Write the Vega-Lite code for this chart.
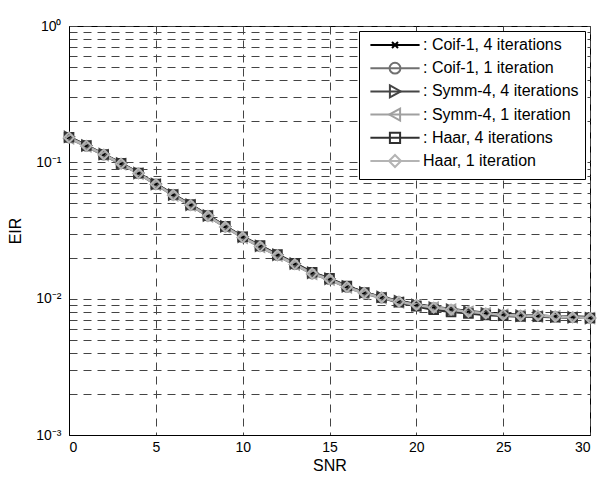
{
 "$schema": "https://vega.github.io/schema/vega-lite/v6.json",
 "width": 521, "height": 409,
 "autosize": "none",
 "padding": {"left": 69, "top": 26, "right": 9, "bottom": 44},
 "background": "white",
 "config": {
  "view": {"stroke": "black", "strokeWidth": 1},
  "font": "Liberation Sans",
  "axis": {"labelFont": "Liberation Sans", "titleFont": "Liberation Sans", "labelFontSize": 14, "titleFontSize": 16, "titleFontWeight": "normal", "labelColor": "black", "titleColor": "black", "domainColor": "black", "ticks": false, "grid": true, "gridDash": [8, 6], "gridColor": "#444", "gridWidth": 1, "gridOpacity": 1, "labelOverlap": false},
  "legend": {"orient": "none", "legendX": 290, "legendY": 5, "title": null, "padding": 6, "cornerRadius": 0,
     "labelFont": "Liberation Sans", "labelFontSize": 16, "labelColor": "black", "labelLimit": 300,
     "symbolSize": 144, "symbolOffset": 22, "labelOffset": 20, "rowPadding": -0.8, "symbolStrokeWidth": 2}
 },
 "data": {"values": [
  {"s":"a","x":0,"y":0.153},{"s":"a","x":1,"y":0.132},{"s":"a","x":2,"y":0.114},{"s":"a","x":3,"y":0.0975},{"s":"a","x":4,"y":0.0832},{"s":"a","x":5,"y":0.0692},{"s":"a","x":6,"y":0.0578},{"s":"a","x":7,"y":0.0487},{"s":"a","x":8,"y":0.0405},{"s":"a","x":9,"y":0.0338},{"s":"a","x":10,"y":0.0283},{"s":"a","x":11,"y":0.0243},{"s":"a","x":12,"y":0.0209},{"s":"a","x":13,"y":0.0180},{"s":"a","x":14,"y":0.0154},{"s":"a","x":15,"y":0.0139},{"s":"a","x":16,"y":0.0123},{"s":"a","x":17,"y":0.0111},{"s":"a","x":18,"y":0.0102},{"s":"a","x":19,"y":0.0096},{"s":"a","x":20,"y":0.0091},{"s":"a","x":21,"y":0.0087},{"s":"a","x":22,"y":0.0084},{"s":"a","x":23,"y":0.0081},{"s":"a","x":24,"y":0.0079},{"s":"a","x":25,"y":0.0077},{"s":"a","x":26,"y":0.0076},{"s":"a","x":27,"y":0.0075},{"s":"a","x":28,"y":0.0074},{"s":"a","x":29,"y":0.0074},{"s":"a","x":30,"y":0.0073},
  {"s":"b","x":0,"y":0.151},{"s":"b","x":1,"y":0.131},{"s":"b","x":2,"y":0.113},{"s":"b","x":3,"y":0.0978},{"s":"b","x":4,"y":0.0828},{"s":"b","x":5,"y":0.0688},{"s":"b","x":6,"y":0.0575},{"s":"b","x":7,"y":0.0484},{"s":"b","x":8,"y":0.0403},{"s":"b","x":9,"y":0.0336},{"s":"b","x":10,"y":0.0281},{"s":"b","x":11,"y":0.0241},{"s":"b","x":12,"y":0.0207},{"s":"b","x":13,"y":0.0178},{"s":"b","x":14,"y":0.0152},{"s":"b","x":15,"y":0.0138},{"s":"b","x":16,"y":0.0121},{"s":"b","x":17,"y":0.0110},{"s":"b","x":18,"y":0.0101},{"s":"b","x":19,"y":0.0095},{"s":"b","x":20,"y":0.0090},{"s":"b","x":21,"y":0.0086},{"s":"b","x":22,"y":0.0083},{"s":"b","x":23,"y":0.0080},{"s":"b","x":24,"y":0.0078},{"s":"b","x":25,"y":0.0076},{"s":"b","x":26,"y":0.0075},{"s":"b","x":27,"y":0.0074},{"s":"b","x":28,"y":0.0074},{"s":"b","x":29,"y":0.0073},{"s":"b","x":30,"y":0.0072},
  {"s":"c","x":0,"y":0.154},{"s":"c","x":1,"y":0.133},{"s":"c","x":2,"y":0.115},{"s":"c","x":3,"y":0.0982},{"s":"c","x":4,"y":0.0835},{"s":"c","x":5,"y":0.0694},{"s":"c","x":6,"y":0.0580},{"s":"c","x":7,"y":0.0489},{"s":"c","x":8,"y":0.0407},{"s":"c","x":9,"y":0.0339},{"s":"c","x":10,"y":0.0284},{"s":"c","x":11,"y":0.0244},{"s":"c","x":12,"y":0.0210},{"s":"c","x":13,"y":0.0181},{"s":"c","x":14,"y":0.0155},{"s":"c","x":15,"y":0.0140},{"s":"c","x":16,"y":0.0123},{"s":"c","x":17,"y":0.0111},{"s":"c","x":18,"y":0.0103},{"s":"c","x":19,"y":0.0096},{"s":"c","x":20,"y":0.0090},{"s":"c","x":21,"y":0.0086},{"s":"c","x":22,"y":0.0083},{"s":"c","x":23,"y":0.0080},{"s":"c","x":24,"y":0.0078},{"s":"c","x":25,"y":0.0076},{"s":"c","x":26,"y":0.0075},{"s":"c","x":27,"y":0.0075},{"s":"c","x":28,"y":0.0074},{"s":"c","x":29,"y":0.0073},{"s":"c","x":30,"y":0.0072},
  {"s":"d","x":0,"y":0.150},{"s":"d","x":1,"y":0.131},{"s":"d","x":2,"y":0.113},{"s":"d","x":3,"y":0.0972},{"s":"d","x":4,"y":0.0826},{"s":"d","x":5,"y":0.0687},{"s":"d","x":6,"y":0.0573},{"s":"d","x":7,"y":0.0484},{"s":"d","x":8,"y":0.0402},{"s":"d","x":9,"y":0.0335},{"s":"d","x":10,"y":0.0280},{"s":"d","x":11,"y":0.0240},{"s":"d","x":12,"y":0.0207},{"s":"d","x":13,"y":0.0178},{"s":"d","x":14,"y":0.0152},{"s":"d","x":15,"y":0.0138},{"s":"d","x":16,"y":0.0121},{"s":"d","x":17,"y":0.0109},{"s":"d","x":18,"y":0.0101},{"s":"d","x":19,"y":0.0094},{"s":"d","x":20,"y":0.0089},{"s":"d","x":21,"y":0.0086},{"s":"d","x":22,"y":0.0083},{"s":"d","x":23,"y":0.0080},{"s":"d","x":24,"y":0.0078},{"s":"d","x":25,"y":0.0076},{"s":"d","x":26,"y":0.0075},{"s":"d","x":27,"y":0.0074},{"s":"d","x":28,"y":0.0074},{"s":"d","x":29,"y":0.0073},{"s":"d","x":30,"y":0.0072},
  {"s":"e","x":0,"y":0.153},{"s":"e","x":1,"y":0.133},{"s":"e","x":2,"y":0.114},{"s":"e","x":3,"y":0.0985},{"s":"e","x":4,"y":0.0836},{"s":"e","x":5,"y":0.0695},{"s":"e","x":6,"y":0.0582},{"s":"e","x":7,"y":0.0490},{"s":"e","x":8,"y":0.0408},{"s":"e","x":9,"y":0.0340},{"s":"e","x":10,"y":0.0285},{"s":"e","x":11,"y":0.0245},{"s":"e","x":12,"y":0.0211},{"s":"e","x":13,"y":0.0182},{"s":"e","x":14,"y":0.0156},{"s":"e","x":15,"y":0.0141},{"s":"e","x":16,"y":0.0124},{"s":"e","x":17,"y":0.0111},{"s":"e","x":18,"y":0.0102},{"s":"e","x":19,"y":0.0094},{"s":"e","x":20,"y":0.0088},{"s":"e","x":21,"y":0.0083},{"s":"e","x":22,"y":0.0080},{"s":"e","x":23,"y":0.0078},{"s":"e","x":24,"y":0.0076},{"s":"e","x":25,"y":0.0075},{"s":"e","x":26,"y":0.0074},{"s":"e","x":27,"y":0.0074},{"s":"e","x":28,"y":0.0073},{"s":"e","x":29,"y":0.0073},{"s":"e","x":30,"y":0.0072},
  {"s":"f","x":0,"y":0.152},{"s":"f","x":1,"y":0.132},{"s":"f","x":2,"y":0.114},{"s":"f","x":3,"y":0.0978},{"s":"f","x":4,"y":0.0830},{"s":"f","x":5,"y":0.0690},{"s":"f","x":6,"y":0.0576},{"s":"f","x":7,"y":0.0486},{"s":"f","x":8,"y":0.0404},{"s":"f","x":9,"y":0.0337},{"s":"f","x":10,"y":0.0282},{"s":"f","x":11,"y":0.0242},{"s":"f","x":12,"y":0.0208},{"s":"f","x":13,"y":0.0179},{"s":"f","x":14,"y":0.0153},{"s":"f","x":15,"y":0.0139},{"s":"f","x":16,"y":0.0122},{"s":"f","x":17,"y":0.0110},{"s":"f","x":18,"y":0.0102},{"s":"f","x":19,"y":0.0095},{"s":"f","x":20,"y":0.0090},{"s":"f","x":21,"y":0.0086},{"s":"f","x":22,"y":0.0083},{"s":"f","x":23,"y":0.0080},{"s":"f","x":24,"y":0.0078},{"s":"f","x":25,"y":0.0076},{"s":"f","x":26,"y":0.0075},{"s":"f","x":27,"y":0.0075},{"s":"f","x":28,"y":0.0074},{"s":"f","x":29,"y":0.0073},{"s":"f","x":30,"y":0.0072}
 ]},
 "encoding": {
  "x": {"field": "x", "type": "quantitative", "scale": {"domain": [0, 30], "nice": false, "zero": false},
        "axis": {"title": "SNR", "values": [0, 5, 10, 15, 20, 25, 30], "labelPadding": 5, "titlePadding": 3}},
  "y": {"field": "y", "type": "quantitative", "scale": {"type": "log", "domain": [0.001, 1], "nice": false},
        "axis": {"title": "EIR", "values": [0.001,0.002,0.003,0.004,0.005,0.006,0.007,0.008,0.009,0.01,0.02,0.03,0.04,0.05,0.06,0.07,0.08,0.09,0.1,0.2,0.3,0.4,0.5,0.6,0.7,0.8,0.9,1],
                 "labelExpr": "datum.value == 1 ? '10⁰' : datum.value == 0.1 ? '10⁻¹' : datum.value == 0.01 ? '10⁻²' : datum.value == 0.001 ? '10⁻³' : ''",
                 "labelPadding": 8, "titlePadding": 12}}
 },
 "layer": [
  {"mark": {"type": "line", "strokeWidth": 2.5},
   "encoding": {"color": {"field": "s", "type": "nominal",
     "scale": {"domain": ["a","b","c","d","e","f"], "range": ["#000000","#707070","#454545","#a0a0a0","#303030","#b4b4b4"]},
     "legend": {"strokeColor": "black", "fillColor": "white", "labelOpacity": 0, "symbolType": "M-4.1,0H4.1M0,-1.17L0,-1.17M0,1.17L0,1.17", "zindex": 0,
       "labelExpr": "datum.value == 'a' ? ': Coif-1, 4 iterations' : datum.value == 'b' ? ': Coif-1, 1 iteration' : datum.value == 'c' ? ': Symm-4, 4 iterations' : datum.value == 'd' ? ': Symm-4, 1 iteration' : datum.value == 'e' ? ': Haar, 4 iterations' : 'Haar, 1 iteration'"}}}},
  {"mark": {"type": "point", "filled": false, "size": 100, "strokeWidth": 2, "opacity": 1},
   "encoding": {
    "stroke": {"field": "s", "type": "nominal",
     "scale": {"range": ["#000000","#707070","#454545","#a0a0a0","#303030","#b4b4b4"]},
     "legend": {"strokeColor": "transparent", "fillColor": "transparent", "symbolFillColor": "transparent", "zindex": 1,
       "labelExpr": "datum.value == 'a' ? ': Coif-1, 4 iterations' : datum.value == 'b' ? ': Coif-1, 1 iteration' : datum.value == 'c' ? ': Symm-4, 4 iterations' : datum.value == 'd' ? ': Symm-4, 1 iteration' : datum.value == 'e' ? ': Haar, 4 iterations' : 'Haar, 1 iteration'"}},
    "shape": {"field": "s", "type": "nominal",
     "scale": {"range": [
       "M-0.5,-0.5L0.5,0.5M-0.5,0.5L0.5,-0.5M0,-1.17L0,-1.17M0,1.17L0,1.17",
       "M-0.9,0A0.9,0.9 0 1,1 0.9,0A0.9,0.9 0 1,1 -0.9,0ZM0,-1.17L0,-1.17M0,1.17L0,1.17",
       "M-0.85,-1L0.95,0L-0.85,1ZM0,-1.17L0,-1.17M0,1.17L0,1.17",
       "M0.85,-1L-0.95,0L0.85,1ZM0,-1.17L0,-1.17M0,1.17L0,1.17",
       "M-0.85,-0.85H0.85V0.85H-0.85ZM0,-1.17L0,-1.17M0,1.17L0,1.17",
       "M0,-1L1,0L0,1L-1,0ZM0,-1.17L0,-1.17M0,1.17L0,1.17"]},
     "legend": {"strokeColor": "transparent", "fillColor": "transparent", "symbolFillColor": "transparent", "zindex": 1,
       "labelExpr": "datum.value == 'a' ? ': Coif-1, 4 iterations' : datum.value == 'b' ? ': Coif-1, 1 iteration' : datum.value == 'c' ? ': Symm-4, 4 iterations' : datum.value == 'd' ? ': Symm-4, 1 iteration' : datum.value == 'e' ? ': Haar, 4 iterations' : 'Haar, 1 iteration'"}}}}
 ]
}
